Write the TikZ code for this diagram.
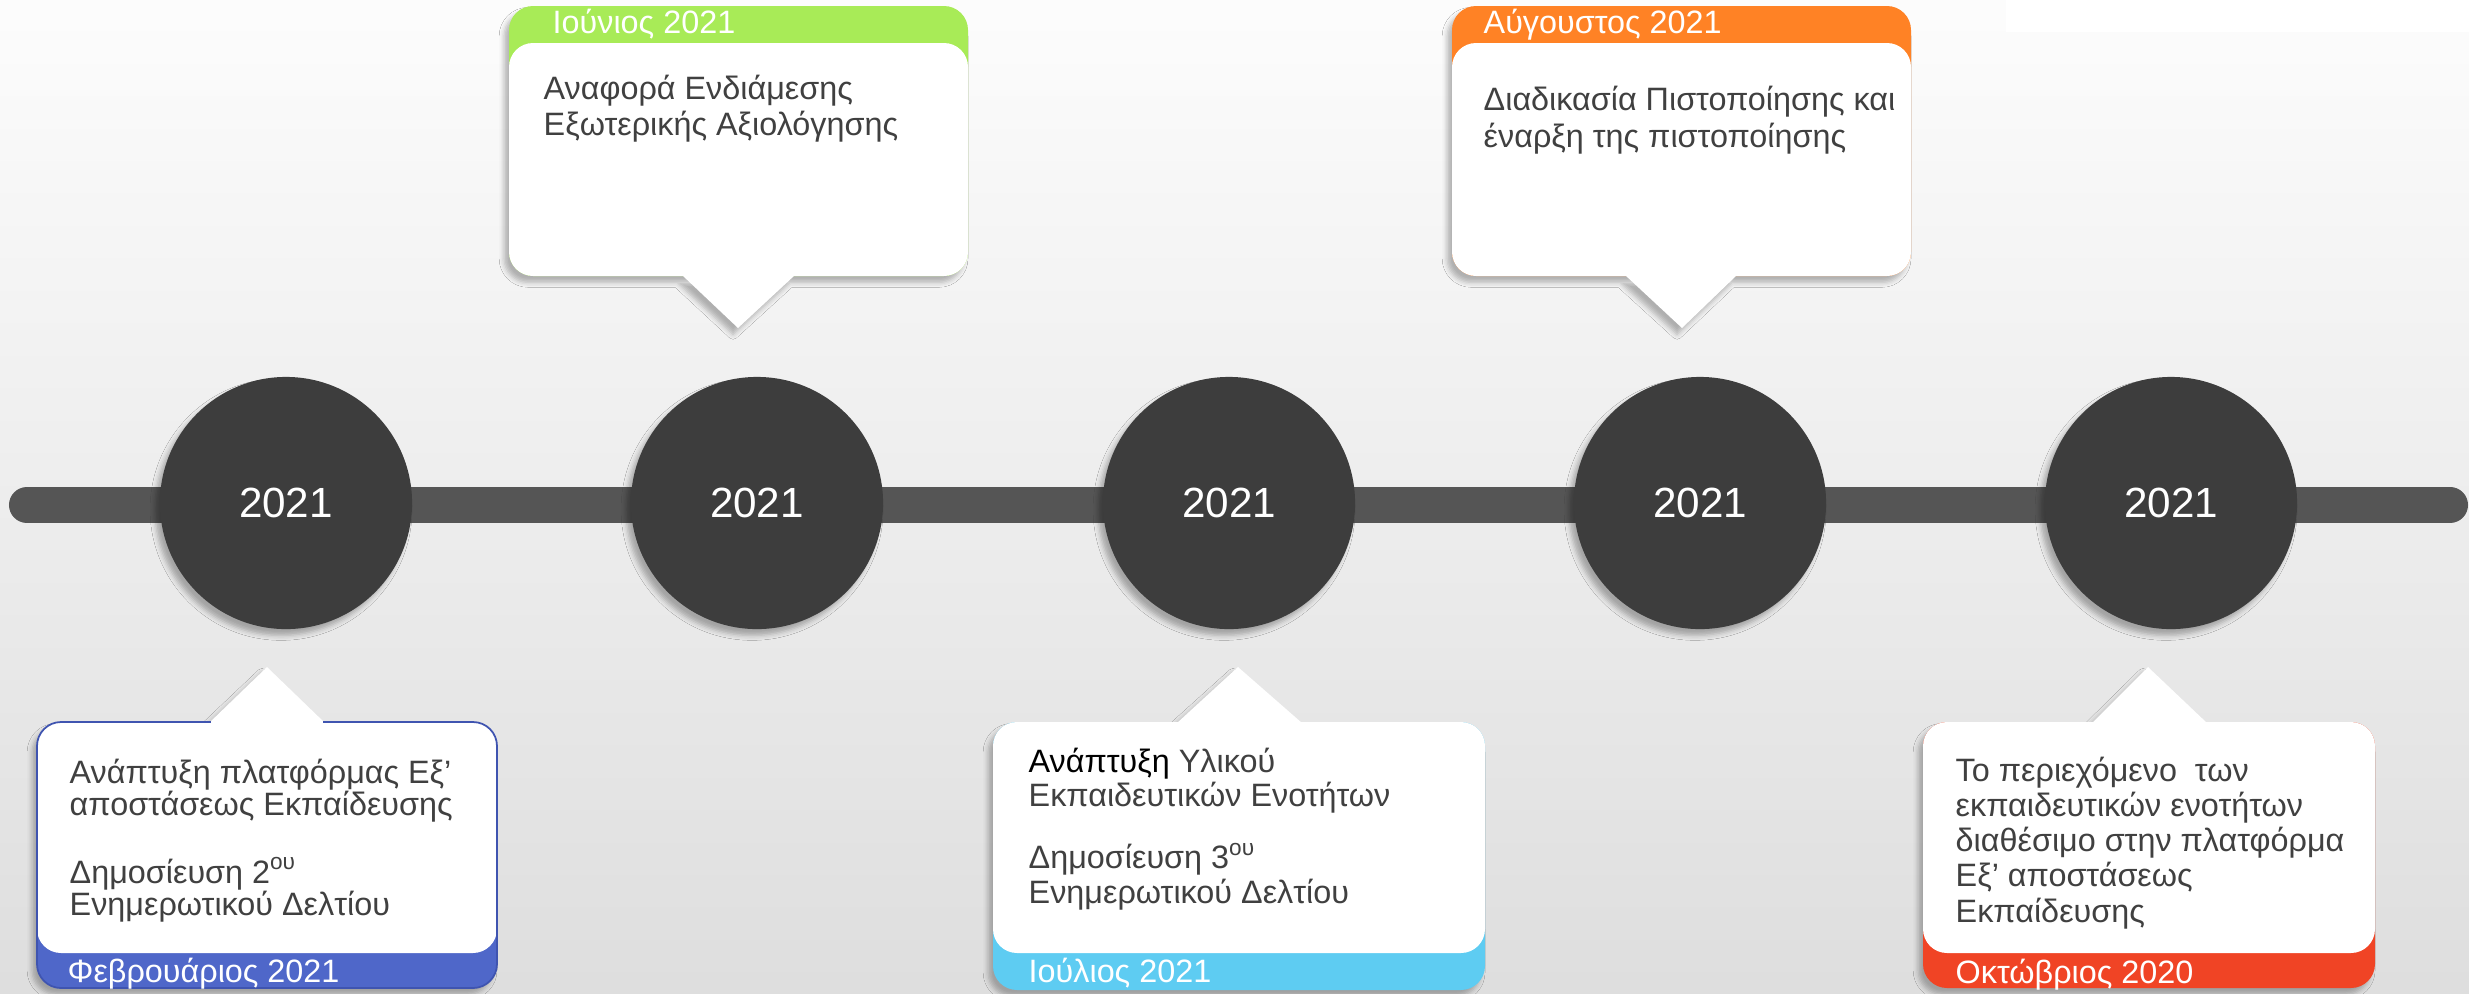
\documentclass[tikz,border=0pt]{standalone}
\usepackage{fontspec}
\setmainfont{Liberation Sans}
\usetikzlibrary{shadows.blur}

\definecolor{barra}{HTML}{555555}
\definecolor{circulo}{HTML}{3D3D3D}
\definecolor{texto}{HTML}{404040}
\definecolor{azul}{HTML}{4F67C9}
\definecolor{azulborde}{HTML}{3F54B0}
\definecolor{verde}{HTML}{A8EB57}
\definecolor{celeste}{HTML}{5ECCF2}
\definecolor{naranja}{HTML}{FF8225}
\definecolor{rojo}{HTML}{F04425}

\tikzset{
  anio/.style={circle, fill=circulo, minimum size=2.52cm, inner sep=0pt, text=white,
    font=\fontsize{12}{14}\selectfont,
    blur shadow={shadow xshift=-1.4pt, shadow yshift=-1.8pt, shadow blur radius=1.4pt, shadow opacity=30}},
  sombra/.style={blur shadow={shadow xshift=-1.4pt, shadow yshift=-1.8pt, shadow blur radius=1.4pt, shadow opacity=28}},
  cuerpo/.style={anchor=base west, align=left, inner sep=0pt, text=texto},
  mes/.style={anchor=base west, inner sep=0pt, text=white, font=\fontsize{9.2}{10}\selectfont},
}

\begin{document}
\begin{tikzpicture}[x=0.01cm, y=-0.01cm] %Línea de tiempo 2020-2021
  \useasboundingbox (0,0) rectangle (2469,993);
  \shade[top color=black!1, bottom color=black!13] (0,0) rectangle (2469,993);
  \fill[white] (2006,0) rectangle (2469,32);

  \coordinate (L) at (27,505);
  \coordinate (R) at (2450,505);
  \draw[barra, line width=0.36cm, line cap=round] (L) -- (R);

  \node[anio] (c1) at (286,503) {2021};
  \node[anio] (c2) at (757,503) {2021};
  \node[anio] (c3) at (1229,503) {2021};
  \node[anio] (c4) at (1700,503) {2021};
  \node[anio] (c5) at (2171,503) {2021};

  % Iunio (arriba)
  \path[sombra] [rounded corners=0.24cm] (509,6) rectangle (968,276) [sharp corners] (682,276) -- (738,328) -- (795,276) -- cycle;
  \fill[verde, rounded corners=0.24cm] (509,6) rectangle (968,276);
  \fill[white, rounded corners=0.24cm] (509,43) rectangle (968,276);
  \fill[white] (682,275) -- (738,328) -- (795,275) -- cycle;
  \node[mes] (m2) at (552,33) {Ιούνιος 2021};
  \node[cuerpo, font=\fontsize{9.2}{10}\selectfont] (t2) at (543,135) {Αναφορά Ενδιάμεσης\\Εξωτερικής Αξιολόγησης};

  % Augusto (arriba)
  \path[sombra] [rounded corners=0.24cm] (1452,6) rectangle (1911,276) [sharp corners] (1625,276) -- (1682,328) -- (1737,276) -- cycle;
  \fill[naranja, rounded corners=0.24cm] (1452,6) rectangle (1911,276);
  \fill[white, rounded corners=0.24cm] (1452,43) rectangle (1911,276);
  \fill[white] (1625,275) -- (1682,328) -- (1737,275) -- cycle;
  \node[mes] (m4) at (1483,33) {Αύγουστος 2021};
  \node[cuerpo, font=\fontsize{9.2}{10.5}\selectfont] (t4) at (1483,147) {Διαδικασία Πιστοποίησης και\\έναρξη της πιστοποίησης};

  % Febrero (abajo)
  \path[sombra] [rounded corners=0.24cm] (37,722) rectangle (497,988) [sharp corners] (209,722) -- (267,667) -- (325,722) -- cycle;
  \fill[azul, rounded corners=0.24cm] (37,722) rectangle (497,988);
  \fill[white, rounded corners=0.24cm] (37,722) rectangle (497,953);
  \fill[white] (209,723) -- (267,667) -- (325,723) -- cycle;
  \draw[azulborde, line width=0.5pt, rounded corners=0.24cm] (37,722) rectangle (497,988);
  \fill[white] (211,721) rectangle (323,724);
  \node[mes] (m1) at (67,982) {Φεβρουάριος 2021};
  \node[cuerpo, font=\fontsize{9.2}{9.1}\selectfont] (t1) at (69,915) {Ανάπτυξη πλατφόρμας Εξ’\\αποστάσεως Εκπαίδευσης\\[9pt]Δημοσίευση 2\textsuperscript{ου}\\Ενημερωτικού Δελτίου};

  % Julio (abajo)
  \path[sombra] [rounded corners=0.24cm] (993,722) rectangle (1485,990) [sharp corners] (1177,722) -- (1238,667) -- (1302,722) -- cycle;
  \fill[celeste, rounded corners=0.24cm] (993,722) rectangle (1485,990);
  \fill[white, rounded corners=0.24cm] (993,722) rectangle (1485,953);
  \fill[white] (1177,723) -- (1238,667) -- (1302,723) -- cycle;
  \node[mes] (m3) at (1028,982) {Ιούλιος 2021};
  \node[cuerpo, font=\fontsize{9.2}{9.7}\selectfont] (t3) at (1028,903) {\textcolor{black}{Ανάπτυξη} Υλικού\\Εκπαιδευτικών Ενοτήτων\\[8pt]Δημοσίευση 3\textsuperscript{ου}\\Ενημερωτικού Δελτίου};

  % Octubre (abajo)
  \path[sombra] [rounded corners=0.24cm] (1923,722) rectangle (2375,988) [sharp corners] (2092,722) -- (2148,667) -- (2207,722) -- cycle;
  \fill[rojo, rounded corners=0.24cm] (1923,722) rectangle (2375,988);
  \fill[white, rounded corners=0.24cm] (1923,722) rectangle (2375,953);
  \fill[white] (2092,723) -- (2148,667) -- (2207,723) -- cycle;
  \node[mes] (m5) at (1955,983) {Οκτώβριος 2020};
  \node[cuerpo, font=\fontsize{9.2}{10}\selectfont] (t5) at (1955,922) {Το περιεχόμενο\ \ των\\εκπαιδευτικών ενοτήτων\\διαθέσιμο στην πλατφόρμα\\Εξ’ αποστάσεως\\Εκπαίδευσης};
\end{tikzpicture}
\end{document}
